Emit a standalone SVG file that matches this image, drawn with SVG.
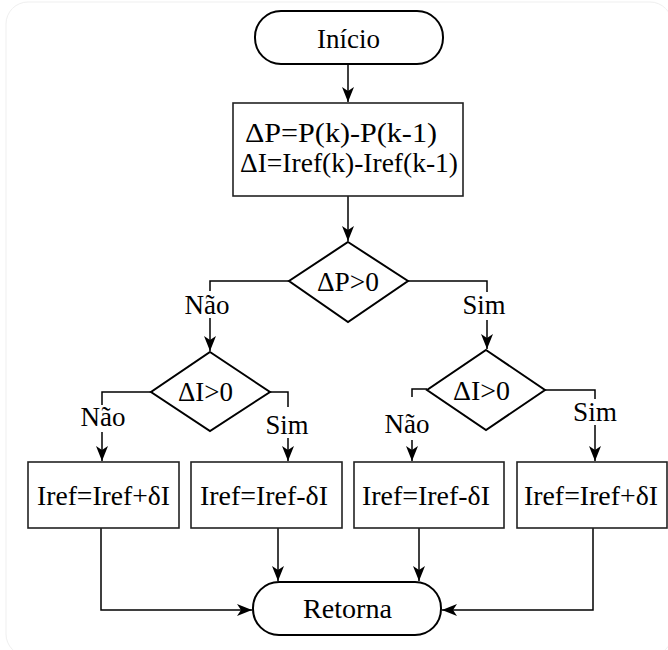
<svg xmlns="http://www.w3.org/2000/svg" width="668" height="650" viewBox="0 0 668 650">
<style>
  .shape { fill: #fff; stroke: #000; stroke-width: 2; }
  .box { fill: #fff; stroke: #222; stroke-width: 1.6; }
  .conn { fill: none; stroke: #000; stroke-width: 1.5; }
  .t { font-family: "Liberation Serif", "Times New Roman", serif; font-size: 28px; fill: #000; text-anchor: middle; }
</style>
<defs>
  <marker id="arr" markerUnits="userSpaceOnUse" markerWidth="18" markerHeight="14" refX="15" refY="6" orient="auto">
    <path d="M0,0 L15,6 L0,12 L4,6 z" fill="#000"/>
  </marker>
</defs>
<rect x="6" y="2" width="666" height="654" rx="22" fill="none" stroke="#efefef" stroke-width="1"/>

<g id="connectors">
  <line class="conn" x1="348" y1="64" x2="348" y2="102" marker-end="url(#arr)"/>
  <line class="conn" x1="348" y1="196" x2="348" y2="241" marker-end="url(#arr)"/>
  <polyline class="conn" points="289,281 210,281 210,291"/>
  <line class="conn" x1="210" y1="318" x2="210" y2="351" marker-end="url(#arr)"/>
  <polyline class="conn" points="408,281 487,281 487,292"/>
  <line class="conn" x1="487" y1="320" x2="487" y2="349" marker-end="url(#arr)"/>
  <polyline class="conn" points="151,392 102,392 102,405"/>
  <line class="conn" x1="102" y1="432" x2="102" y2="461" marker-end="url(#arr)"/>
  <polyline class="conn" points="270,392 288,392 288,407"/>
  <line class="conn" x1="288" y1="438" x2="288" y2="461" marker-end="url(#arr)"/>
  <polyline class="conn" points="427,389 412,389 412,397"/>
  <line class="conn" x1="412" y1="440" x2="412" y2="461" marker-end="url(#arr)"/>
  <polyline class="conn" points="545,390 595,390 595,399"/>
  <line class="conn" x1="595" y1="425" x2="595" y2="461" marker-end="url(#arr)"/>
  <polyline class="conn" points="101,528 101,610 252,610" marker-end="url(#arr)"/>
  <line class="conn" x1="278" y1="528" x2="278" y2="581" marker-end="url(#arr)"/>
  <line class="conn" x1="419" y1="528" x2="419" y2="581" marker-end="url(#arr)"/>
  <polyline class="conn" points="593,528 593,610 442,610" marker-end="url(#arr)"/>
  <text class="t" x="207" y="314" textLength="45" lengthAdjust="spacingAndGlyphs">Não</text>
  <text class="t" x="484" y="314" textLength="43" lengthAdjust="spacingAndGlyphs">Sim</text>
  <text class="t" x="103" y="426" textLength="45" lengthAdjust="spacingAndGlyphs">Não</text>
  <text class="t" x="287" y="434" textLength="43" lengthAdjust="spacingAndGlyphs">Sim</text>
  <text class="t" x="407" y="433" textLength="45" lengthAdjust="spacingAndGlyphs">Não</text>
  <text class="t" x="595" y="421" textLength="44" lengthAdjust="spacingAndGlyphs">Sim</text>
</g>

<g id="inicio">
  <rect class="shape" x="255" y="11" width="188" height="53" rx="26"/>
  <text class="t" x="348.5" y="48" textLength="63" lengthAdjust="spacingAndGlyphs">Início</text>
</g>
<g id="calc">
  <rect class="box" x="233" y="103" width="230" height="93"/>
  <text class="t" x="341" y="142" textLength="192" lengthAdjust="spacingAndGlyphs">ΔP=P(k)-P(k-1)</text>
  <text class="t" x="349" y="172" textLength="218" lengthAdjust="spacingAndGlyphs">ΔI=Iref(k)-Iref(k-1)</text>
</g>
<g id="dp">
  <polygon class="shape" points="348,242 408,281 348,322 289,281"/>
  <text class="t" x="348" y="291" textLength="62" lengthAdjust="spacingAndGlyphs">ΔP&gt;0</text>
</g>
<g id="di-left">
  <polygon class="shape" points="210,352 270,392 210,431 151,392"/>
  <text class="t" x="205.5" y="401" textLength="55" lengthAdjust="spacingAndGlyphs">ΔI&gt;0</text>
</g>
<g id="di-right">
  <polygon class="shape" points="486,350 545,390 486,430 427,390"/>
  <text class="t" x="481.5" y="400" textLength="57" lengthAdjust="spacingAndGlyphs">ΔI&gt;0</text>
</g>
<g id="box1">
  <rect class="box" x="28" y="462" width="151" height="66"/>
  <text class="t" x="103.5" y="505" textLength="133" lengthAdjust="spacingAndGlyphs">Iref=Iref+δI</text>
</g>
<g id="box2">
  <rect class="box" x="191" y="462" width="151" height="66"/>
  <text class="t" x="264" y="505" textLength="128" lengthAdjust="spacingAndGlyphs">Iref=Iref-δI</text>
</g>
<g id="box3">
  <rect class="box" x="354" y="462" width="150" height="66"/>
  <text class="t" x="426" y="505" textLength="128" lengthAdjust="spacingAndGlyphs">Iref=Iref-δI</text>
</g>
<g id="box4">
  <rect class="box" x="517" y="462" width="150" height="66"/>
  <text class="t" x="591" y="505" textLength="134" lengthAdjust="spacingAndGlyphs">Iref=Iref+δI</text>
</g>
<g id="retorna">
  <rect class="shape" x="253" y="582" width="188" height="53" rx="26"/>
  <text class="t" x="347.5" y="618" textLength="89" lengthAdjust="spacingAndGlyphs">Retorna</text>
</g>
</svg>
